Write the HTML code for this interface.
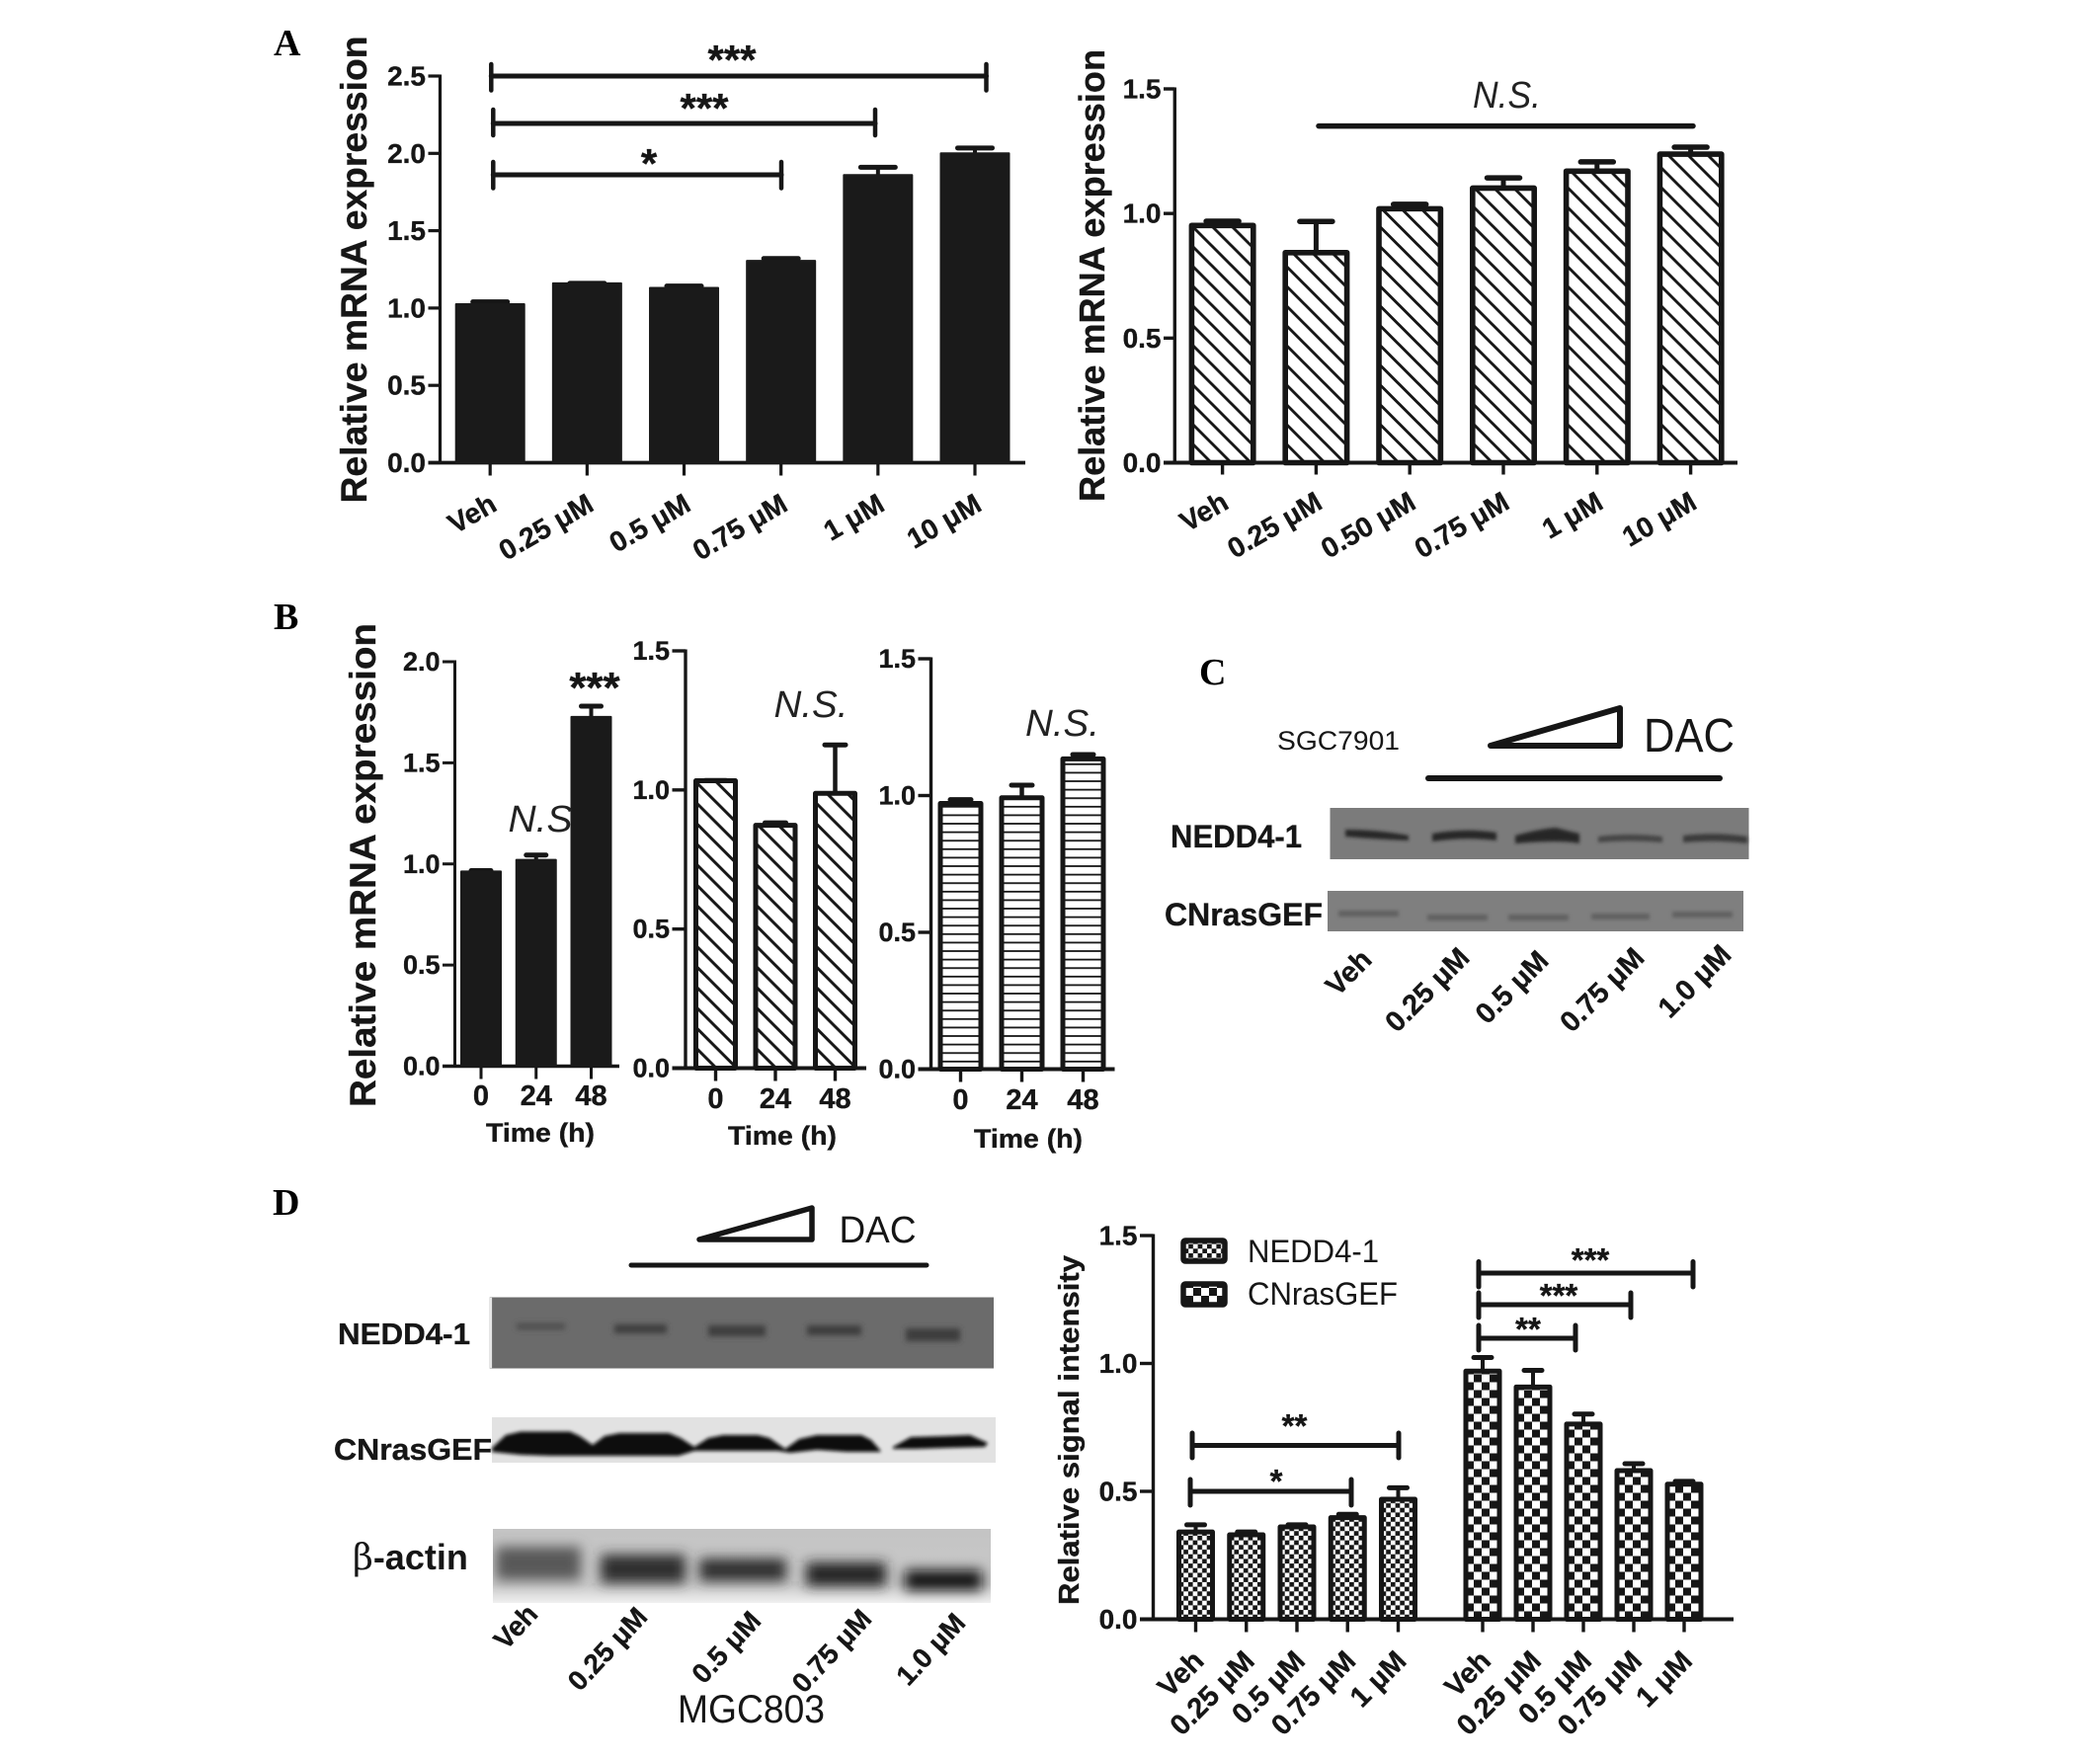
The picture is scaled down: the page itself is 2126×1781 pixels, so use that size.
<!DOCTYPE html>
<html lang="en">
<head>
<meta charset="utf-8">
<title>DAC dose response of NEDD4-1 and CNrasGEF</title>
<style>
html,body{margin:0;padding:0;background:#fff;}
svg{display:block;}
text{font-family:"Liberation Sans",Arial,sans-serif;fill:#161616;}
.b,text[font-weight="bold"],g[font-weight="bold"] text{font-weight:bold;stroke:#161616;stroke-width:.35px;}
.letter{font-family:"Liberation Serif",serif;font-weight:bold;font-size:38px;fill:#000;}
.ns{font-style:italic;font-size:38px;fill:#222;}
</style>
</head>
<body>
<svg id="figure" xmlns="http://www.w3.org/2000/svg" width="2126" height="1781" viewBox="0 0 2126 1781">
<defs>
<pattern id="hatchA" patternUnits="userSpaceOnUse" width="20" height="20">
<rect width="20" height="20" fill="#fff"/>
<path d="M-2,-2L22,22M-2,18L2,22M18,-2L22,2" stroke="#161616" stroke-width="2.9" fill="none"/>
</pattern>
<pattern id="hatchB" patternUnits="userSpaceOnUse" width="20.7" height="20.7">
<rect width="20.7" height="20.7" fill="#fff"/>
<path d="M-2,-2L22.7,22.7M-2,18.7L2,22.7M18.7,-2L22.7,2" stroke="#161616" stroke-width="3" fill="none"/>
</pattern>
<pattern id="hlines" patternUnits="userSpaceOnUse" width="10" height="8.6">
<rect width="10" height="8.6" fill="#fff"/>
<rect y="0" width="10" height="1.8" fill="#161616"/>
</pattern>
<pattern id="checkFine" patternUnits="userSpaceOnUse" width="9.4" height="9.4">
<rect width="9.4" height="9.4" fill="#fff"/>
<rect width="4.7" height="4.7" fill="#161616"/>
<rect x="4.7" y="4.7" width="4.7" height="4.7" fill="#161616"/>
</pattern>
<pattern id="checkCoarse" patternUnits="userSpaceOnUse" width="16" height="16">
<rect width="16" height="16" fill="#fff"/>
<rect width="8" height="8" fill="#161616"/>
<rect x="8" y="8" width="8" height="8" fill="#161616"/>
</pattern>
<filter id="blur1" x="-20%" y="-50%" width="140%" height="200%"><feGaussianBlur stdDeviation="1.8"/></filter>
<filter id="blur2" x="-20%" y="-80%" width="140%" height="260%"><feGaussianBlur stdDeviation="2.8"/></filter>
<filter id="blur6" x="-30%" y="-60%" width="160%" height="220%"><feGaussianBlur stdDeviation="6.5"/></filter>
<clipPath id="clipActin"><rect x="499" y="1548" width="504" height="75"/></clipPath>
<linearGradient id="actinBg" x1="0" y1="0" x2="0" y2="1">
<stop offset="0" stop-color="#c4c4c4"/><stop offset="0.75" stop-color="#c8c8c8"/><stop offset="1" stop-color="#f0f0f0"/>
</linearGradient>
</defs>

<rect width="2126" height="1781" fill="#fff"/>

<text class="letter" x="277" y="56">A</text>
<text class="letter" x="277" y="637">B</text>
<text class="letter" x="1214" y="693">C</text>
<text class="letter" x="276" y="1230">D</text>

<g id="chart-a1"></g>
<g id="chart-a2"></g>
<g id="chart-b1"></g>
<g id="chart-b2"></g>
<g id="chart-b3"></g>
<g id="chart-d"></g>

<text class="b" transform="translate(371,273) rotate(-90)" text-anchor="middle" font-size="37" textLength="473" lengthAdjust="spacingAndGlyphs">Relative mRNA expression</text>
<text class="b" transform="translate(1118,279) rotate(-90)" text-anchor="middle" font-size="36" textLength="458" lengthAdjust="spacingAndGlyphs">Relative mRNA expression</text>
<text class="b" transform="translate(380,876) rotate(-90)" text-anchor="middle" font-size="37" textLength="490" lengthAdjust="spacingAndGlyphs">Relative mRNA expression</text>
<text class="b" transform="translate(1092,1448) rotate(-90)" text-anchor="middle" font-size="29" textLength="354" lengthAdjust="spacingAndGlyphs">Relative signal intensity</text>

<g fill="none" stroke="#161616" stroke-linecap="round">
<path stroke-width="5" d="M497.3,77H998.5"/>
<path stroke-width="4.5" d="M497.3,65V91.5M998.5,65V91.5"/>
<path stroke-width="5" d="M499.3,125H886"/>
<path stroke-width="4.5" d="M499.3,111V137M886,111V137"/>
<path stroke-width="5" d="M499.3,177H791"/>
<path stroke-width="4.5" d="M499.3,164V190.5M791,164V190.5"/>
</g>
<text class="b" x="741" y="75" font-size="42" text-anchor="middle">***</text>
<text class="b" x="713" y="124" font-size="42" text-anchor="middle">***</text>
<text class="b" x="657" y="180" font-size="42" text-anchor="middle">*</text>

<path d="M1335,127.6H1714" stroke="#161616" stroke-width="5.5" stroke-linecap="round" fill="none"/>
<text class="ns" x="1491" y="109" textLength="69" lengthAdjust="spacingAndGlyphs">N.S.</text>

<text class="b" x="602" y="711" font-size="44" text-anchor="middle">***</text>
<text class="ns" x="514.5" y="842" textLength="65" lengthAdjust="spacingAndGlyphs">N.S</text>
<text class="ns" x="783.5" y="726" textLength="75" lengthAdjust="spacingAndGlyphs">N.S.</text>
<text class="ns" x="1038" y="745" textLength="75" lengthAdjust="spacingAndGlyphs">N.S.</text>

<text class="b" x="547" y="1156" font-size="27" text-anchor="middle" textLength="110" lengthAdjust="spacingAndGlyphs">Time (h)</text>
<text class="b" x="792" y="1159" font-size="27" text-anchor="middle" textLength="110" lengthAdjust="spacingAndGlyphs">Time (h)</text>
<text class="b" x="1041" y="1162" font-size="27" text-anchor="middle" textLength="110" lengthAdjust="spacingAndGlyphs">Time (h)</text>

<g>
<text x="1293" y="759" font-size="27" textLength="124" lengthAdjust="spacingAndGlyphs">SGC7901</text>
<path d="M1509,755L1640,717V755Z" fill="none" stroke="#161616" stroke-width="6" stroke-linejoin="round"/>
<text x="1664" y="761" font-size="48" textLength="92" lengthAdjust="spacingAndGlyphs">DAC</text>
<path d="M1446,788H1741" stroke="#161616" stroke-width="6" stroke-linecap="round" fill="none"/>
<text class="b" x="1185" y="858" font-size="32" textLength="133" lengthAdjust="spacingAndGlyphs">NEDD4-1</text>
<text class="b" x="1179" y="937" font-size="32" textLength="160" lengthAdjust="spacingAndGlyphs">CNrasGEF</text>
<rect x="1346.5" y="818" width="424" height="52" fill="#7b7b7b"/>
<g fill="#262626" filter="url(#blur1)">
<path d="M1362,840Q1395,840 1426,846V851Q1395,850 1362,847Z"/>
<path d="M1450,844Q1483,838 1515,843V851Q1483,847 1450,852Z"/>
<path d="M1534,846Q1560,839 1575,838Q1590,842 1599,844V854Q1580,850 1534,854Z"/>
<path d="M1618,847Q1650,843 1683,847V853Q1650,850 1618,853Z" fill="#444"/>
<path d="M1704,846Q1737,842 1769,847V854Q1737,850 1704,853Z" fill="#3a3a3a"/>
</g>
<rect x="1344" y="902" width="421" height="41" fill="#7f7f7f"/>
<g fill="#606060" filter="url(#blur1)">
<rect x="1355" y="922" width="61" height="6"/>
<rect x="1445" y="926" width="61" height="6"/>
<rect x="1527" y="926" width="61" height="6"/>
<rect x="1611" y="925" width="59" height="6"/>
<rect x="1693" y="923" width="61" height="6"/>
</g>
<g font-weight="bold" font-size="29" text-anchor="end" dominant-baseline="central">
<text transform="translate(1384,967) rotate(-45)">Veh</text>
<text transform="translate(1483,965) rotate(-45)">0.25 μM</text>
<text transform="translate(1563,968) rotate(-45)">0.5 μM</text>
<text transform="translate(1660,965) rotate(-45)">0.75 μM</text>
<text transform="translate(1748,962) rotate(-45)">1.0 μM</text>
</g>
</g>

<g>
<path d="M708,1255L822,1223V1255Z" fill="none" stroke="#161616" stroke-width="5.5" stroke-linejoin="round"/>
<text x="849.5" y="1258" font-size="38" textLength="78" lengthAdjust="spacingAndGlyphs">DAC</text>
<path d="M639,1281H938" stroke="#161616" stroke-width="5" stroke-linecap="round" fill="none"/>
<text class="b" x="342" y="1361" font-size="31" textLength="134" lengthAdjust="spacingAndGlyphs">NEDD4-1</text>
<text class="b" x="338" y="1478" font-size="31" textLength="160" lengthAdjust="spacingAndGlyphs">CNrasGEF</text>
<text x="357" y="1589" font-size="36" font-weight="bold" style="stroke:none"><tspan font-weight="normal" font-family="'DejaVu Serif','Liberation Serif',serif">β</tspan><tspan font-weight="bold">-actin</tspan></text>
<rect x="498" y="1313.5" width="508" height="72" fill="#6b6b6b"/>
<rect x="496" y="1313.5" width="2" height="72" fill="#fff" stroke="#999" stroke-width="0.5"/>
<g fill="#3c3c3c" filter="url(#blur2)">
<rect x="523" y="1340" width="49" height="6" fill="#4b4b4b"/>
<rect x="622" y="1341" width="53" height="9"/>
<rect x="717" y="1342" width="58" height="11"/>
<rect x="817" y="1342" width="55" height="10"/>
<rect x="917" y="1345" width="55" height="13"/>
</g>
<rect x="498" y="1435" width="510" height="46" fill="#e2e2e2"/>
<path transform="translate(-3,0)" filter="url(#blur1)" fill="#0e0e0e" d="M501,1466L515,1453L530,1449.5H580L590,1454L603,1463L615,1454L630,1451H680L692,1456L706,1465L720,1456L735,1453H770L782,1456L798,1467L812,1457L830,1453H875L885,1458L893,1467L895,1470H860L830,1468L803,1471L790,1469H740L706,1469L690,1474H560L530,1473L501,1470Z M907,1465L925,1455L960,1454L985,1453L1003,1461L1000,1465L960,1466L930,1467L907,1467Z"/>
<rect x="499" y="1548" width="504" height="75" fill="url(#actinBg)"/>
<g clip-path="url(#clipActin)">
<g filter="url(#blur6)">
<rect x="502" y="1566" width="86" height="34" fill="#585858"/>
<rect x="608" y="1574" width="86" height="29" fill="#2e2e2e"/>
<rect x="708" y="1578" width="88" height="23" fill="#2e2e2e"/>
<rect x="816" y="1582" width="81" height="24" fill="#242424"/>
<rect x="916" y="1590" width="78" height="20" fill="#0c0c0c"/>
</g>
</g>
<g font-weight="bold" font-size="28" text-anchor="end" dominant-baseline="central">
<text transform="translate(539,1629) rotate(-47)">Veh</text>
<text transform="translate(650,1632) rotate(-47)">0.25 μM</text>
<text transform="translate(765,1636) rotate(-47)">0.5 μM</text>
<text transform="translate(877,1634) rotate(-47)">0.75 μM</text>
<text transform="translate(972,1638) rotate(-47)">1.0 μM</text>
</g>
<text x="686" y="1744" font-size="40" textLength="149" lengthAdjust="spacingAndGlyphs">MGC803</text>
</g>

<g>
<rect x="1198" y="1256" width="42" height="21" rx="2" fill="url(#checkFine)" stroke="#161616" stroke-width="5.5"/>
<text x="1263" y="1278" font-size="32" textLength="133" lengthAdjust="spacingAndGlyphs">NEDD4-1</text>
<rect x="1198" y="1300" width="42" height="21" rx="2" fill="url(#checkCoarse)" stroke="#161616" stroke-width="5.5"/>
<text x="1263" y="1321" font-size="32" textLength="152" lengthAdjust="spacingAndGlyphs">CNrasGEF</text>
</g>

<g fill="none" stroke="#161616" stroke-linecap="round">
<path stroke-width="5" d="M1207,1463.5H1416M1207,1451V1476M1416,1451V1476"/>
<path stroke-width="5" d="M1205,1510H1368M1205,1498V1524M1368,1498V1524"/>
<path stroke-width="5" d="M1497,1289H1714M1497,1277.5V1303M1714,1277.5V1303"/>
<path stroke-width="5" d="M1497,1321H1651M1497,1309V1334M1651,1309V1334"/>
<path stroke-width="5" d="M1497,1355H1595M1497,1342V1367M1595,1342V1367"/>
</g>
<g font-weight="bold" font-size="33" text-anchor="middle">
<text x="1310.5" y="1455">**</text>
<text x="1292" y="1511">*</text>
<text x="1610" y="1287">***</text>
<text x="1578" y="1323">***</text>
<text x="1547" y="1357">**</text>
</g>
</svg>

<script>
// Panel A, left
const a1Categories = ['Veh', '0.25 μM', '0.5 μM', '0.75 μM', '1 μM', '10 μM'];
const a1Values = [1.025, 1.16, 1.13, 1.305, 1.86, 2.0];
const a1Errors = [0.015, 0.0, 0.012, 0.015, 0.05, 0.035];
const a1Ticks = ['0.0', '0.5', '1.0', '1.5', '2.0', '2.5'];
// Panel A, right
const a2Categories = ['Veh', '0.25 μM', '0.50 μM', '0.75 μM', '1 μM', '10 μM'];
const a2Values = [0.952, 0.843, 1.019, 1.102, 1.17, 1.238];
const a2Errors = [0.017, 0.125, 0.018, 0.041, 0.037, 0.028];
const a2Ticks = ['0.0', '0.5', '1.0', '1.5'];
// Panel B
const timeCategories = ['0', '24', '48'];
const b1Values = [0.963, 1.02, 1.727];
const b1Errors = [0.004, 0.024, 0.053];
const b1Ticks = ['0.0', '0.5', '1.0', '1.5', '2.0'];
const b2Values = [1.033, 0.873, 0.988];
const b2Errors = [0.001, 0.009, 0.174];
const b2Ticks = ['0.0', '0.5', '1.0', '1.5'];
const b3Values = [0.971, 0.992, 1.134];
const b3Errors = [0.014, 0.046, 0.016];
const b3Ticks = ['0.0', '0.5', '1.0', '1.5'];
// Panel D, signal intensity
const dCategories = ['Veh', '0.25 μM', '0.5 μM', '0.75 μM', '1 μM'];
const nedd4Values = [0.341, 0.330, 0.361, 0.397, 0.469];
const nedd4Errors = [0.028, 0.011, 0.008, 0.013, 0.045];
const cnrasValues = [0.970, 0.908, 0.763, 0.581, 0.528];
const cnrasErrors = [0.053, 0.065, 0.039, 0.027, 0.011];
const dTicks = ['0.0', '0.5', '1.0', '1.5'];

const SVG_NS = 'http://www.w3.org/2000/svg';
const INK = '#161616';

function svgEl(tag, attrs, parent) {
  const el = document.createElementNS(SVG_NS, tag);
  for (const k in attrs) el.setAttribute(k, attrs[k]);
  parent.appendChild(el);
  return el;
}

function yScale(c) {
  return function (v) { return c.y0 - (v / c.yMax) * (c.y0 - c.yTop); };
}

function drawAxes(root, c, ticks) {
  const y = yScale(c);
  const yAxis = svgEl('line', {x1: c.axisX, x2: c.axisX, y1: y(c.yMax) - 1.5, y2: c.y0, stroke: INK, 'stroke-width': c.axisW}, root);
  
  
  const xAxis = svgEl('line', {x1: c.xStart, x2: c.xEnd, y1: c.y0, y2: c.y0, stroke: INK, 'stroke-width': c.axisW + 0.5}, root);
  
  
  ticks.forEach(function (label) {
    const v = parseFloat(label);
    const tick = svgEl('line', {x1: c.xStart, x2: c.axisX, y1: y(v), y2: y(v), stroke: INK, 'stroke-width': c.axisW}, root);
    
    
    const txt = svgEl('text', {x: c.xStart - 2.5, y: y(v), 'text-anchor': 'end', 'dominant-baseline': 'central', 'font-weight': 'bold', 'font-size': c.tickFont}, root);
    txt.textContent = label;
    
    
  });
}

function drawBars(root, c, s, categories, values, errors) {
  const y = yScale(c);
  values.forEach(function (v, i) {
    const cx = s.x0 + i * s.step;
    const top = y(v);
    const errTop = y(v + errors[i]);
    const tick = svgEl('line', {x1: cx, x2: cx, y1: c.y0, y2: c.y0 + c.tickLen, stroke: INK, 'stroke-width': c.axisW}, root);
    
    
    const stem = svgEl('line', {x1: cx, x2: cx, y1: top, y2: errTop, stroke: INK, 'stroke-width': s.stemW}, root);
    
    
    const cap = svgEl('line', {x1: cx - s.capW / 2, x2: cx + s.capW / 2, y1: errTop, y2: errTop, stroke: INK, 'stroke-width': s.capT, 'stroke-linecap': 'round'}, root);
    
    
    const inner = s.width - s.stroke;
    const g = svgEl('g', {transform: 'translate(' + (cx - inner / 2) + ',' + c.y0 + ')'}, root);
    
    
    const bar = svgEl('rect', {x: 0, y: top - c.y0, width: inner, height: c.y0 - top, fill: s.fill, stroke: s.ink, 'stroke-width': s.stroke, 'stroke-linejoin': 'round'}, g);
    
    
    const label = svgEl('text', {'font-weight': 'bold', 'font-size': c.labelFont, 'dominant-baseline': 'central'}, root);
    label.textContent = categories[i];
    if (c.labelAngle) {
      label.setAttribute('text-anchor', 'end');
      label.setAttribute('transform', 'translate(' + (cx + c.labelDx) + ',' + c.labelY + ') rotate(' + c.labelAngle + ')');
    } else {
      label.setAttribute('text-anchor', 'middle');
      label.setAttribute('x', cx);
      label.setAttribute('y', c.labelY);
    }
    
    
  });
}

const a1Cfg = {axisX: 445.5, xStart: 433.5, xEnd: 1038, y0: 468.5, yTop: 77, yMax: 2.5, axisW: 3.2, tickLen: 13, tickFont: 28, labelFont: 28.5, labelAngle: -30, labelDx: 4, labelY: 508};
drawAxes(document.getElementById('chart-a1'), a1Cfg, a1Ticks);
drawBars(document.getElementById('chart-a1'), a1Cfg, {x0: 496.2, step: 98.16, width: 71, stroke: 2, fill: '#1a1a1a', ink: '#1a1a1a', stemW: 4, capW: 35, capT: 5}, a1Categories, a1Values, a1Errors);

const a2Cfg = {axisX: 1189.3, xStart: 1178, xEnd: 1759, y0: 468.5, yTop: 90, yMax: 1.5, axisW: 3.4, tickLen: 12, tickFont: 28, labelFont: 28.5, labelAngle: -30, labelDx: 3.5, labelY: 506};
drawAxes(document.getElementById('chart-a2'), a2Cfg, a2Ticks);
drawBars(document.getElementById('chart-a2'), a2Cfg, {x0: 1237.6, step: 94.8, width: 68, stroke: 5.6, fill: 'url(#hatchA)', ink: INK, stemW: 5, capW: 33, capT: 5.5}, a2Categories, a2Values, a2Errors);

const b1Cfg = {axisX: 460.5, xStart: 448, xEnd: 627, y0: 1079.5, yTop: 670, yMax: 2.0, axisW: 3, tickLen: 13, tickFont: 27, labelFont: 29, labelAngle: 0, labelY: 1110};
drawAxes(document.getElementById('chart-b1'), b1Cfg, b1Ticks);
drawBars(document.getElementById('chart-b1'), b1Cfg, {x0: 487, step: 55.75, width: 42, stroke: 2, fill: '#1a1a1a', ink: '#1a1a1a', stemW: 4, capW: 20, capT: 5}, timeCategories, b1Values, b1Errors);

const b2Cfg = {axisX: 694, xStart: 680.5, xEnd: 877, y0: 1081.5, yTop: 659, yMax: 1.5, axisW: 3.4, tickLen: 13, tickFont: 27, labelFont: 29, labelAngle: 0, labelY: 1113};
drawAxes(document.getElementById('chart-b2'), b2Cfg, b2Ticks);
drawBars(document.getElementById('chart-b2'), b2Cfg, {x0: 724.5, step: 60.5, width: 45, stroke: 5, fill: 'url(#hatchB)', ink: INK, stemW: 4.5, capW: 21, capT: 5}, timeCategories, b2Values, b2Errors);

const b3Cfg = {axisX: 942.5, xStart: 929.5, xEnd: 1128.5, y0: 1082.5, yTop: 667, yMax: 1.5, axisW: 3.4, tickLen: 13, tickFont: 27, labelFont: 29, labelAngle: 0, labelY: 1114};
drawAxes(document.getElementById('chart-b3'), b3Cfg, b3Ticks);
drawBars(document.getElementById('chart-b3'), b3Cfg, {x0: 972.5, step: 62, width: 46, stroke: 5, fill: 'url(#hlines)', ink: INK, stemW: 4.5, capW: 21, capT: 5}, timeCategories, b3Values, b3Errors);

const dCfg = {axisX: 1167.5, xStart: 1154, xEnd: 1755, y0: 1639.5, yTop: 1251, yMax: 1.5, axisW: 3.4, tickLen: 13, tickFont: 28, labelFont: 29, labelAngle: -45, labelDx: 3.5, labelY: 1677};
drawAxes(document.getElementById('chart-d'), dCfg, dTicks);
drawBars(document.getElementById('chart-d'), dCfg, {x0: 1210.5, step: 51.25, width: 39, stroke: 5, fill: 'url(#checkFine)', ink: INK, stemW: 4, capW: 18, capT: 5}, dCategories, nedd4Values, nedd4Errors);
drawBars(document.getElementById('chart-d'), dCfg, {x0: 1501, step: 51, width: 39, stroke: 5, fill: 'url(#checkCoarse)', ink: INK, stemW: 4, capW: 18, capT: 5}, dCategories, cnrasValues, cnrasErrors);
</script>
</body>
</html>
